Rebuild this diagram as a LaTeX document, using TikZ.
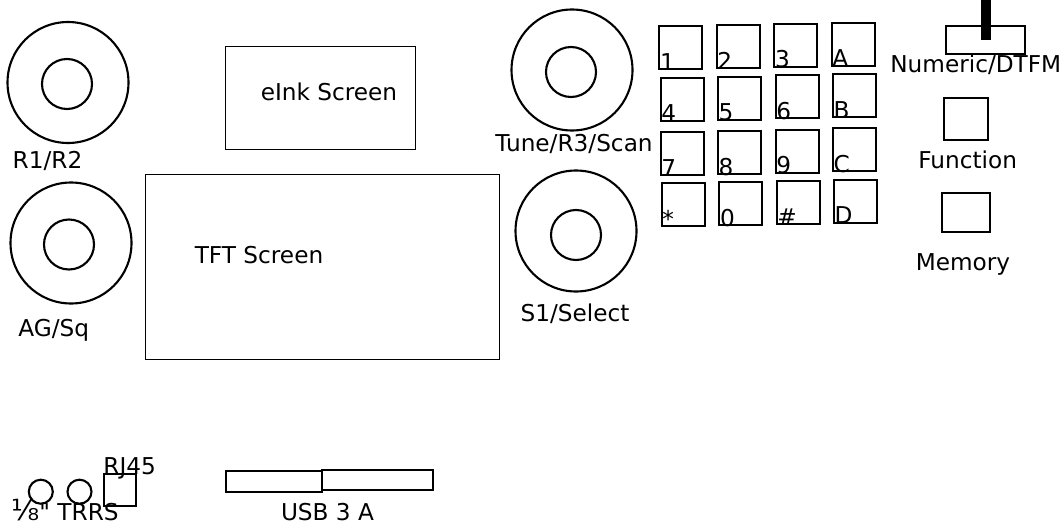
\documentclass[tikz,border=0pt]{standalone}
\usepackage{fontspec}
\setmainfont{DejaVu Sans}[Ligatures=TeXOff]
\usetikzlibrary{positioning}

\begin{document}
\begin{tikzpicture}[
    x=1pt, y=-1pt,
    every node/.style={font=\fontsize{23.2}{27}\selectfont, inner sep=0pt},
    lbl/.style={anchor=base},
    knob/.style={draw, circle, line width=2.1pt, minimum size=121pt},
    dial/.style={draw, circle, line width=2.1pt, minimum size=50pt},
    key/.style={draw, rectangle, line width=2.1pt, minimum size=43pt, anchor=north west},
    keylbl/.style={anchor=base west, xshift=1.5pt},
    btn/.style={draw, rectangle, line width=2.1pt, anchor=north west},
    jack/.style={draw, circle, line width=2.1pt, minimum size=24pt},
]

% Page frame
\useasboundingbox (0,0) rectangle (1064,532);
\coordinate (top) at (0,0);

% Knobs: outer ring and inner dial
\foreach \name/\ox/\oy/\ix/\iy in {
    rr/68/82.5/67/84,
    agsq/71/243/69/244.5,
    tune/572/70/571/72,
    sel/576/231/576/235%
} {
    \node[knob] (\name) at (\ox,\oy) {};
    \node[dial] (\name-in) at (\ix,\iy) {};
}
\node[lbl] (rr-lbl) at (47.5,168.3) {R1/R2};
\node[lbl] (agsq-lbl) at (53.8,336.7) {AG/Sq};
\node[lbl] (tune-lbl) at (574,151) {Tune/R3/Scan};
\node[lbl] (sel-lbl) at (575,321.7) {S1/Select};

% Screens
\node[draw, line width=1.1pt, minimum width=190pt, minimum height=103pt, anchor=north west] (eink) at (224.7,45.7) {};
\node[lbl] (eink-lbl) at (329,101) {eInk Screen};
\node[draw, line width=1.8pt, minimum width=354pt, minimum height=185pt, anchor=north west] (tft) at (144.5,173.5) {};
\node[lbl] (tft-lbl) at (259,263) {TFT Screen};

% Keypad
\foreach \name/\x/\y/\t in {
    k1/658.3/25/1, k2/715.7/24/2, k3/773.3/22.7/3, kA/830.7/21.7/A,
    k4/659.7/76.7/4, k5/717/75.7/5, k6/774.7/74.3/6, kB/832/73/B,
    k7/659.7/131/7, k8/717/130/8, k9/774.7/128.7/9, kC/832/127.3/C,
    kstar/660.7/182.3/*, k0/718.3/181.3/0, khash/775.7/180/\#, kD/833/178.7/D%
} {
    \node[key] (\name) at (\x,\y) {};
    \node[keylbl] (\name-lbl) at (\name.south west) {\t};
}

% Mode switch and buttons
\node[btn, minimum width=79pt, minimum height=28pt] (numeric) at (945.3,25) {};
\draw[line width=9.3pt] (numeric.center) -- (numeric.center |- top);
\node[lbl] (numeric-lbl) at (975.8,72.7) {Numeric/DTFM};
\node[btn, minimum width=43.5pt, minimum height=42pt] (func) at (943.3,96.7) {};
\node[lbl] (func-lbl) at (967.7,168) {Function};
\node[btn, minimum width=47.5pt, minimum height=39.5pt] (mem) at (941.3,191.7) {};
\node[lbl] (mem-lbl) at (963,270.7) {Memory};

% Connectors on the bottom edge
\node[jack] (trrs1) at (40.8,491.7) {};
\node[jack] (trrs2) at (79.5,491.7) {};
\node[btn, minimum width=32pt, minimum height=32pt] (rj45) at (102.7,473.3) {};
\node[lbl] (rj45-lbl) at (129.7,474) {RJ45};
\node[lbl] (trrs-lbl) at (65,520.7) {{\fontsize{29}{29}\selectfont ⅛}" TRRS};
\node[btn, minimum width=96pt, minimum height=20.5pt] (usb1) at (225,470) {};
\node[btn, minimum width=110.5pt, minimum height=19.5pt] (usb2) at (321,469.3) {};
\node[lbl] (usb-lbl) at (327.5,520) {USB 3 A};

\end{tikzpicture}
\end{document}
